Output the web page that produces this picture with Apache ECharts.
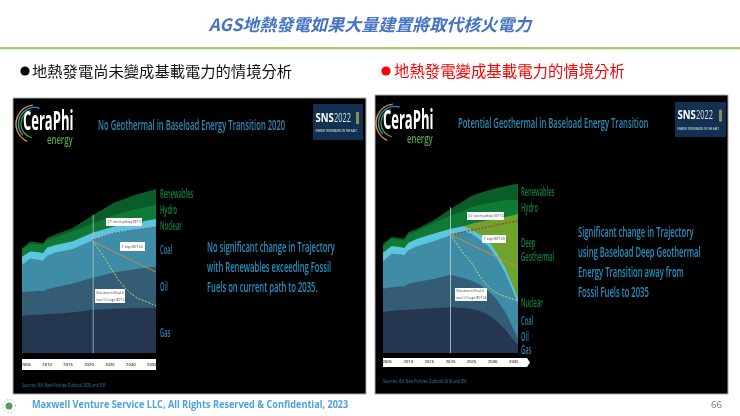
<!DOCTYPE html>
<html><head><meta charset="utf-8">
<style>html,body{margin:0;padding:0;background:#fff}#c{width:740px;height:416px;filter:blur(0.45px)}</style>
<script src="https://cdn.jsdelivr.net/npm/echarts@6/dist/echarts.min.js"></script>
</head><body><div id="c"></div>
<script>
// ---- left panel: no geothermal ----
const yearsA = [2004,2006,2008,2009,2010,2012,2016,2021,2026,2031,2036];
const gasA   = [112,114,115,116,117,118,122,130,133,135,136];
const oilA   = [71,71,72,70,75,80,86,97,109,117,124];
const coalA  = [82,99,93,91,100,104,104,113,118,118,119];
const nuclearA = [24,21,23,23,25,23,23,22,20,22,24];
const hydroA = [23,23,24,25,23,23,30,28,35,40,42];
const renewA = [3,7,5,5,6,8,10,25,37,43,48];
const currentA = [[2021,340],[2026,360],[2031,370],[2036,379]];
const target2A = [[2021,335],[2036,243]];
const target15A = [[2021,335],[2024,280],[2026,240],[2028,205],[2031,170],[2034,153],[2036,142]];
// ---- right panel: deep geothermal ----
const yearsB = [2004,2006,2008,2009,2010,2012,2016,2020,2023,2025,2027,2029,2031,2033,2035,2036];
const gasB   = [123,126,128,129,130,131,134,137,135,132,126,114,95,70,38,23];
const oilB   = [70,71,72,70,77,82,88,98,90,85,79,71,65,52,32,19];
const coalB  = [82,101,96,94,101,107,113,118,140,141,135,135,125,118,110,108];
const nuclearB = [25,22,22,21,22,22,23,19,15,12,15,15,15,15,15,15];
const geoB   = [0,0,0,0,0,0,0,0,0,18,39,63,103,153,219,252];
const hydroB = [22,23,22,24,25,23,32,40,45,50,51,52,51,50,46,43];
const renewB = [6,5,5,5,7,7,8,20,30,34,35,38,41,42,46,47];
const currentB = [[2020,355],[2036,397]];
const target2B = [[2020,355],[2036,257]];
const target15B = [[2020,355],[2023,300],[2025,270],[2027,230],[2029,200],[2031,180],[2034,165],[2036,157]];
const tickYears = [2005,2010,2015,2020,2025,2030,2035];
const nowA = [[2021,0],[2021,415]];
const nowB = [[2020,0],[2020,437]];

const col = {gas:'#253650',oil:'#345c75',coal:'#3f8ca6',nuclear:'#5cc5e0',geo:'#6ea32e',hydro:'#0f7a35',renew:'#0a5c28'};
const SANS = '"Open Sans",sans-serif';
const CJK = '"Noto Sans CJK TC",sans-serif';

// Cumulative bands, painted from the top band downward so each one covers the base of the last.
function bands(years, layers, idx){
  const totals = years.map(()=>0);
  const built = layers.map(([name,vals,color])=>{
    vals.forEach((v,i)=>{ totals[i]+=v; });
    return {name, type:'line', xAxisIndex:idx, yAxisIndex:idx, showSymbol:false, silent:true,
      lineStyle:{width:0}, areaStyle:{color, opacity:1, origin:'start'}, itemStyle:{color},
      data: years.map((y,i)=>[y,totals[i]])};
  });
  return built.reverse().map((s,i)=>Object.assign(s,{z:2+i*0.01}));
}
function line(name, data, color, type, width, idx, smooth){
  return {name, type:'line', xAxisIndex:idx, yAxisIndex:idx, showSymbol:false, silent:true, smooth:!!smooth,
    lineStyle:{color, type, width}, data, z:4};
}
function xAxis(idx, margin){
  return {type:'value', gridIndex:idx, min:2004, max:2036, splitLine:{show:false}, axisLine:{show:false}, axisTick:{show:false},
    z:6, axisLabel:{customValues:tickYears, margin, fontSize:4.2, fontWeight:600, color:'#333', fontFamily:SANS, formatter:v=>String(v), hideOverlap:false}};
}
function yAxis(idx, max){ return {type:'value', gridIndex:idx, min:0, max, show:false}; }

function txt(x,y,text,size,fill,sx,o){
  return {type:'text', x, y, scaleX:sx||1, z:20, silent:true,
    style:Object.assign({text, fontSize:size, fill, fontFamily:SANS, textAlign:'left', textVerticalAlign:'middle'}, o)};
}
function rect(x,y,w,h,fill,z,stroke){
  return {type:'rect', z:z, silent:true, shape:{x,y,width:w,height:h}, style:{fill, stroke:stroke||null, lineWidth:stroke?1:0}};
}
function box(x,y,w,h,lines){
  const out=[rect(x,y,w,h,'#fff',18)];
  lines.forEach((l,i)=>out.push(txt(x+1.5,y+h*(i+0.5)/lines.length,l,3.7,'#333',0.68)));
  return out;
}
function logo(dx,dy){
  const a=(r,s,e,c,w)=>({type:'arc',z:15,silent:true,shape:{cx:35+dx,cy:124+dy,r,startAngle:s,endAngle:e},style:{stroke:c,fill:null,lineWidth:w}});
  return [
    a(19,2.0,4.6,'#e8902a',1.4), a(16.5,2.4,5.0,'#2a8fd0',1.4), a(14,1.8,4.4,'#3bae49',1.2),
    txt(23+dx,123+dy,'CeraPhi',26,'#fff',0.5,{fontWeight:'bold'}),
    txt(47+dx,140+dy,'energy',12.5,'#4ca83d',0.62,{fontWeight:600}),
  ];
}
function sns(x,y,w,h){
  return [rect(x,y,w,h,'#12304f',15),
    txt(x+2.5,y+h*0.4,'SNS',12,'#fff',0.8,{fontWeight:'bold'}),
    txt(x+21,y+h*0.4,'2022',12,'#d6dee6',0.62),
    rect(x+w-7,y+h*0.22,3,h*0.34,'#8d8a55',16),
    txt(x+2.5,y+h*0.76,'ENERGY INTEGRATED IN THE EAST',3.4,'#d6dee6',0.75,{fontWeight:600})];
}
const LS=0.46, DS=0.51, TS=0.566, SS=0.68, G='#0f8040', B='#1f86b0', D='#2090c0';
const W={fontWeight:600};

const graphic = [
  // slide chrome
  txt(370,25,'AGS地熱發電如果大量建置將取代核火電力',17,'#4472c4',1,{fontFamily:CJK,fontWeight:'bold',fontStyle:'italic',textAlign:'center'}),
  rect(0,47,740,2.2,'#a0cc6c',1),
  {type:'circle',silent:true,z:5,shape:{cx:25,cy:71,r:4.6},style:{fill:'#000'}},
  txt(32,71,'地熱發電尚未變成基載電力的情境分析',15.3,'#111',1,{fontFamily:CJK}),
  {type:'circle',silent:true,z:5,shape:{cx:386,cy:71,r:4.6},style:{fill:'#ff0000'}},
  txt(394,71,'地熱發電變成基載電力的情境分析',15.4,'#ff0000',1,{fontFamily:CJK}),
  txt(32,405,'Maxwell Venture Service LLC, All Rights Reserved & Confidential, 2023',11,'#4da3e0',0.83,{fontWeight:'bold'}),
  txt(711,405,'66',9.5,'#777'),
  {type:'circle',silent:true,z:5,shape:{cx:9,cy:406,r:3.5},style:{fill:'#5b9a5a'}},
  {type:'circle',silent:true,z:5,shape:{cx:9,cy:406,r:6.5},style:{fill:null,stroke:'#9aa8a0',lineWidth:1,lineDash:[1,2.5]}},
  // left panel
  rect(13,98,353,296,'#000',-10,'#aaa'),
  rect(22,359,134,11,'#fff',-5),
  ...logo(0,0), ...sns(313,104,50,36),
  txt(98,126,'No Geothermal in Baseload Energy Transition 2020',13.5,'#2a8ab5',TS,W),
  txt(160,194,'Renewables',12.5,G,LS,W), txt(160,210,'Hydro',12.5,G,LS,W), txt(160,226,'Nuclear',12.5,G,LS,W),
  txt(160,250,'Coal',12.5,B,LS,W), txt(160,287,'Oil',12.5,B,LS,W), txt(160,333,'Gas',12.5,B,LS,W),
  txt(207,248,'No significant change in Trajectory',15,D,DS,W),
  txt(207,268,'with Renewables exceeding Fossil',15,D,DS,W),
  txt(207,288,'Fuels on current path to 2035.',15,D,DS,W),
  txt(22,385,'Sources: IEA New Policies Outlook 2020 and IEA',5.4,'#1d6c90',SS,W),
  ...box(106,218,36,8,['2.7° current pathway (83°F 3.1)']),
  ...box(120,242,25,9,['2° target (80°F 4.3)']),
  ...box(95,289,30,14,['New amount of fossil to','meet 1.5° target (80°F 2.6)']),
  // right panel
  rect(375,95,353,299,'#000',-10,'#aaa'),
  {type:'polygon',silent:true,z:-5,shape:{points:[[383,358],[527,358],[530,362.5],[527,367],[383,367]]},style:{fill:'#fff'}},
  ...logo(360,-1), ...sns(675,102,51,35),
  txt(458,124,'Potential Geothermal in Baseload Energy Transition',13.5,'#2a8ab5',TS,W),
  txt(521,192,'Renewables',12.5,G,LS,W), txt(521,208,'Hydro',12.5,G,LS,W),
  txt(521,243,'Deep',12.5,G,LS,W), txt(521,257,'Geothermal',12.5,G,LS,W), txt(521,303,'Nuclear',12.5,G,LS,W),
  txt(521,321,'Coal',12.5,B,LS,W), txt(521,337,'Oil',12.5,B,LS,W), txt(521,350,'Gas',12.5,B,LS,W),
  txt(578,233,'Significant change in Trajectory',15,D,DS,W),
  txt(578,253,'using Baseload Deep Geothermal',15,D,DS,W),
  txt(578,273,'Energy Transition away from',15,D,DS,W),
  txt(578,293,'Fossil Fuels to 2035',15,D,DS,W),
  txt(383,381,'Sources: IEA New Policies Outlook 2018 and IEA',5.4,'#1d6c90',SS,W),
  ...box(467,212,37,8,['3.5° current pathway (92°F 5.0)']),
  ...box(482,235,24,8,['2° target (80°F 4.5)']),
  ...box(455,288,32,13,['New amount of fossil to','meet 1.5° target (80°F 2.6)']),
];

const series = [
  ...bands(yearsA,[['Gas',gasA,col.gas],['Oil',oilA,col.oil],['Coal',coalA,col.coal],['Nuclear',nuclearA,col.nuclear],['Hydro',hydroA,col.hydro],['Renewables',renewA,col.renew]],0),
  line('Now',nowA,'#a9c2c8','solid',0.8,0),
  line('Current',currentA,'#8a4f7a',[2,1.5],1.3,0,true),
  line('2° target',target2A,'#c08a4a','solid',1,0),
  line('1.5° target',target15A,'#c2ea82',[2,1.5],0.9,0,true),
  ...bands(yearsB,[['Gas',gasB,col.gas],['Oil',oilB,col.oil],['Coal',coalB,col.coal],['Nuclear',nuclearB,col.nuclear],['Deep Geothermal',geoB,col.geo],['Hydro',hydroB,col.hydro],['Renewables',renewB,col.renew]],1),
  line('Now',nowB,'#c5d4d8','solid',0.8,1),
  line('Current',currentB,'#a8422e',[2,1.5],1.3,1),
  line('2° target',target2B,'#d08a3a','solid',1,1),
  line('1.5° target',target15B,'#c2ea82',[2,1.5],0.9,1,true),
];

const chart = echarts.init(document.getElementById('c'),null,{renderer:'canvas'});
chart.setOption({
  animation:false, backgroundColor:'#fff',
  grid:[{left:22,top:189,width:134,height:164},{left:383,top:184,width:135,height:169}],
  xAxis:[xAxis(0,9.5),xAxis(1,6.5)],
  yAxis:[yAxis(0,493),yAxis(1,507)],
  graphic:{elements:graphic},
  series
});
</script></body></html>
